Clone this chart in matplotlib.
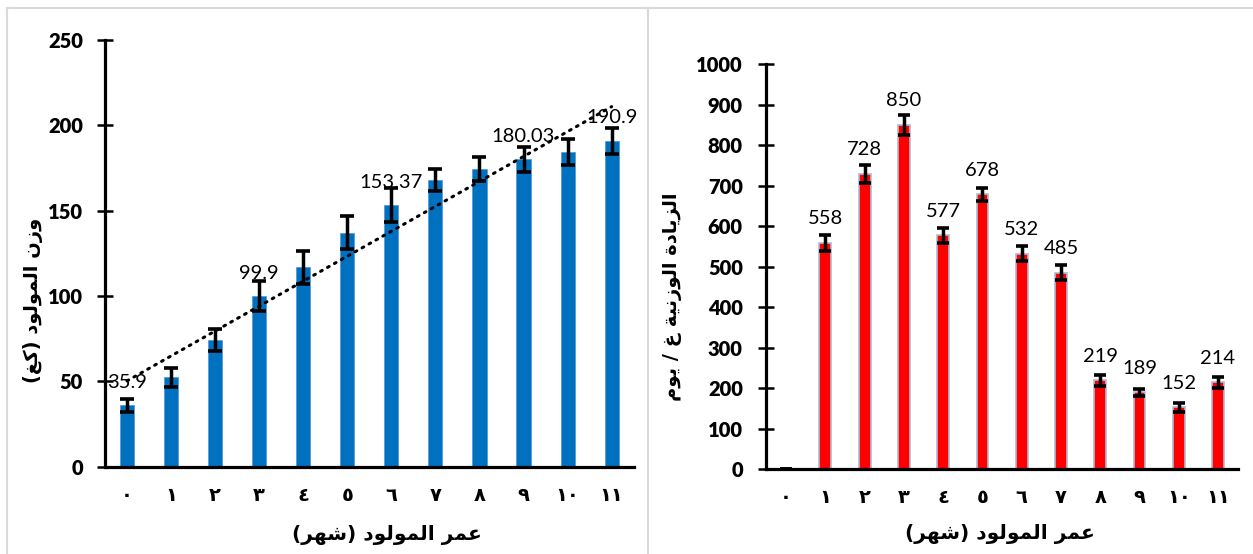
import numpy as np
import matplotlib
matplotlib.use("Agg")
import matplotlib.pyplot as plt
from matplotlib.lines import Line2D

# months of age and their Arabic-Indic labels
months = list(range(12))
month_labels = ["٠", "١", "٢", "٣", "٤", "٥", "٦", "٧", "٨", "٩", "١٠", "١١"]

# calf weight (kg) with error
weight = [35.9, 52.3, 74.2, 99.9, 116.8, 137.2, 153.37, 167.9, 174.4, 180.03, 184.5, 190.9]
weight_err = [3.6, 5.6, 6.5, 8.7, 9.7, 9.7, 10.0, 6.5, 7.0, 7.5, 7.5, 7.5]
weight_labels = {0: "35.9", 3: "99.9", 6: "153.37", 9: "180.03", 11: "190.9"}

# daily weight gain (g/day) with error
gain = [0, 558, 728, 850, 577, 678, 532, 485, 219, 189, 152, 214]
gain_err = [0, 20, 22, 24, 18, 17, 19, 18, 13, 9, 12, 13]

left_ylabel = "وزن المولود (كغ)"
right_ylabel = "الزيادة الوزنية غ / يوم"
age_xlabel = "عمر المولود (شهر)"

# minimal Arabic shaping: (isolated, final, initial, medial)
FORMS = {
    "ا": ("\uFE8D", "\uFE8E", None, None),
    "د": ("\uFEA9", "\uFEAA", None, None),
    "ر": ("\uFEAD", "\uFEAE", None, None),
    "ز": ("\uFEAF", "\uFEB0", None, None),
    "و": ("\uFEED", "\uFEEE", None, None),
    "ة": ("\uFE93", "\uFE94", None, None),
    "ش": ("\uFEB5", "\uFEB6", "\uFEB7", "\uFEB8"),
    "ع": ("\uFEC9", "\uFECA", "\uFECB", "\uFECC"),
    "غ": ("\uFECD", "\uFECE", "\uFECF", "\uFED0"),
    "ك": ("\uFED9", "\uFEDA", "\uFEDB", "\uFEDC"),
    "ل": ("\uFEDD", "\uFEDE", "\uFEDF", "\uFEE0"),
    "م": ("\uFEE1", "\uFEE2", "\uFEE3", "\uFEE4"),
    "ن": ("\uFEE5", "\uFEE6", "\uFEE7", "\uFEE8"),
    "ه": ("\uFEE9", "\uFEEA", "\uFEEB", "\uFEEC"),
    "ي": ("\uFEF1", "\uFEF2", "\uFEF3", "\uFEF4"),
}


def shape(text):
    out = []
    for i, c in enumerate(text):
        if c not in FORMS:
            out.append(c)
            continue
        iso, fin, ini, med = FORMS[c]
        prev = text[i - 1] if i > 0 else None
        nxt = text[i + 1] if i + 1 < len(text) else None
        jp = prev in FORMS and FORMS[prev][2] is not None
        jn = ini is not None and nxt in FORMS
        if jp and jn:
            out.append(med)
        elif jp:
            out.append(fin)
        elif jn:
            out.append(ini)
        else:
            out.append(iso)
    return "".join(reversed(out)).translate(str.maketrans("()", ")("))


num_font = "Lato"
ar_font = "DejaVu Sans"

fig = plt.figure(figsize=(12.53, 5.54), dpi=100)

# panel borders
W, H = 1253, 554
border = "#d9d9d9"
fig.add_artist(Line2D([7 / W, 1], [1 - 8 / H, 1 - 8 / H], color=border, lw=1.5))
fig.add_artist(Line2D([7 / W, 7 / W], [0, 1 - 8 / H], color=border, lw=1.5))
fig.add_artist(Line2D([648 / W, 648 / W], [0, 1 - 8 / H], color=border, lw=1.5))

ax1 = fig.add_axes([0.0838, 0.1576, 0.4219, 0.7702])
ax2 = fig.add_axes([0.6117, 0.1534, 0.3760, 0.7310])


def style_axes(ax, ypad):
    for s in ["top", "right"]:
        ax.spines[s].set_visible(False)
    for s in ["left", "bottom"]:
        ax.spines[s].set_linewidth(2.3)
    ax.tick_params(axis="y", direction="inout", length=11, width=1.8, pad=ypad)
    ax.tick_params(axis="x", length=0, pad=14)
    ax.set_xlim(-0.5, 11.5)
    ax.set_xticks(months)
    ax.set_xticklabels(month_labels, fontfamily=ar_font, fontweight="bold", fontsize=14)
    for lab in ax.get_yticklabels():
        lab.set_fontfamily(num_font)
        lab.set_fontweight("heavy")
        lab.set_fontsize(14.5)


# left: weight
ax1.bar(months, weight, width=0.32, color="#0070C0", edgecolor="#5b9bd5", linewidth=0.6, zorder=2)
ax1.errorbar(months, weight, yerr=weight_err, fmt="none", ecolor="black",
             elinewidth=2.5, capsize=5, capthick=2.6, zorder=3)
coef = np.polyfit(months, weight, 1)
ends = [months[0], months[-1]]
ax1.plot(ends, np.polyval(coef, ends), color="black", lw=2.2,
         linestyle=(0, (0.6, 2.0)), dash_capstyle="round", zorder=4)
for i, txt in weight_labels.items():
    ax1.annotate(txt, (months[i], weight[i]), xytext=(0, 16.5), textcoords="offset points",
                 ha="center", va="center", fontfamily=num_font, fontsize=14.5, zorder=5)
ax1.set_ylim(0, 250)
ax1.set_yticks(range(0, 251, 50))
style_axes(ax1, 10.5)
ax1.set_ylabel(shape(left_ylabel), fontfamily=ar_font, fontweight="bold", fontsize=14)
ax1.yaxis.set_label_coords(-0.136, 0.39)
ax1.yaxis.label.set_va("center")
ax1.set_xlabel(shape(age_xlabel), fontfamily=ar_font, fontweight="bold", fontsize=14.5)
ax1.xaxis.set_label_coords(0.533, -0.16)
ax1.xaxis.label.set_va("center")

# right: daily gain
ax2.bar(months, gain, width=0.30, color="#FF0000", edgecolor="#a9bcd6", linewidth=1.2, zorder=2)
ax2.errorbar(months, gain, yerr=gain_err, fmt="none", ecolor="black",
             elinewidth=2.5, capsize=4.5, capthick=2.6, zorder=3)
for i, v in enumerate(gain):
    if v > 0:
        ax2.annotate(str(v), (months[i], v), xytext=(0, 17.5), textcoords="offset points",
                     ha="center", va="center", fontfamily=num_font, fontsize=14.5, zorder=5)
ax2.set_ylim(0, 1000)
ax2.set_yticks(range(0, 1001, 100))
style_axes(ax2, 11.5)
ax2.set_ylabel(shape(right_ylabel), fontfamily=ar_font, fontweight="bold", fontsize=14)
ax2.yaxis.set_label_coords(-0.2, 0.425)
ax2.yaxis.label.set_va("center")
ax2.set_xlabel(shape(age_xlabel), fontfamily=ar_font, fontweight="bold", fontsize=14.5)
ax2.xaxis.set_label_coords(0.496, -0.16)
ax2.xaxis.label.set_va("center")

fig.savefig("out.png", dpi=100)
